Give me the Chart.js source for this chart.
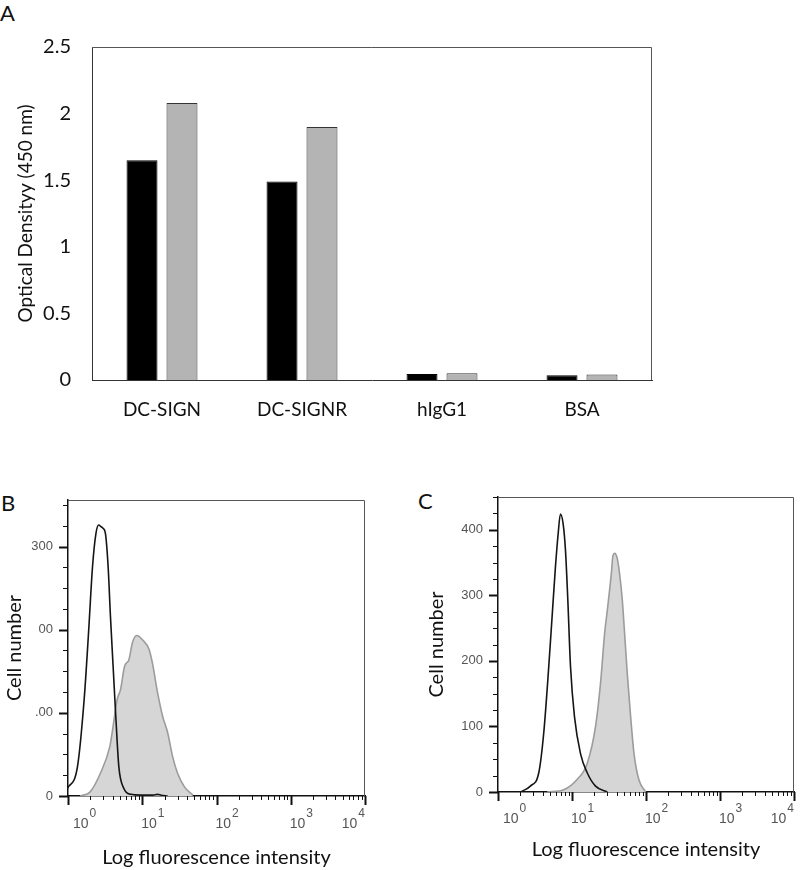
<!DOCTYPE html>
<html>
<head>
<meta charset="utf-8">
<script src="https://cdn.jsdelivr.net/npm/chart.js@4.4.1/dist/chart.umd.min.js"></script>
<style>
  body { margin: 0; background: #fff; width: 800px; height: 870px; position: relative; overflow: hidden; font-family: Lato, sans-serif; }
  canvas { position: absolute; }
  .panel { position: absolute; font-size: 22px; line-height: 1; color: #111; }
</style>
</head>
<body>
<div class="panel" style="left:0px;top:2px">A</div>
<div class="panel" style="left:1px;top:492px">B</div>
<div class="panel" style="left:418px;top:490px">C</div>
<canvas id="chartA" width="800" height="440" style="left:0;top:0"></canvas>
<canvas id="chartB" width="400" height="430" style="left:0;top:440px"></canvas>
<canvas id="chartC" width="400" height="430" style="left:400px;top:440px"></canvas>
<script>
// Panel A - ELISA
const categories = ['DC-SIGN', 'DC-SIGNR', 'hIgG1', 'BSA'];
const odBlack = [1.65, 1.49, 0.045, 0.035];
const odGray = [2.08, 1.90, 0.05, 0.042];

// Panel B / C - flow histograms (log x)
const decades = [1, 10, 100, 1000, 10000];
const decadeExp = ['0', '1', '2', '3', '4'];

const bYTicks = [0, 100, 200, 300];
const bYText = ['0', '.00', '00', '300'];
const cYTicks = [0, 100, 200, 300, 400];
const cYText = ['0', '100', '200', '300', '400'];

const bOpenX = [0.98, 1.34, 1.65, 1.89, 2.14, 2.38, 2.59, 2.78, 2.96, 3.19, 3.47, 3.73, 4.05, 4.40, 4.84, 5.66, 6.98, 9.5, 14, 16, 18, 22];
const bOpenY = [9, 35, 116, 196, 276, 316, 326, 324, 322, 316, 276, 216, 156, 96, 35, 9, 2, 1, 1, 2, 1, 0];
const bFillX = [1.46, 1.99, 2.72, 3.65, 3.93, 4.59, 5.1, 5.78, 6.62, 7.35, 8.42, 10.05, 12.4, 13.7, 16.1, 18.8, 22, 25.7, 30, 37, 48];
const bFillY = [0, 5, 27, 59, 76, 116, 128, 156, 164, 184, 193, 188, 176, 160, 124, 96, 76, 47, 27, 11, 1];

const cOpenX = [2.0, 2.74, 3.55, 4.15, 4.85, 5.38, 5.97, 6.5, 6.98, 7.59, 8.16, 8.78, 9.55, 10.8, 13.0, 16.1, 20.8, 30];
const cOpenY = [0, 9, 29, 90, 191, 267, 343, 394, 424, 409, 369, 293, 191, 115, 59, 29, 9, 0];
const cFillX = [4.61, 7.75, 11.7, 16.1, 20.8, 24.3, 27.6, 30, 34, 35.8, 37.7, 40.9, 44.5, 47.8, 51.4, 55.8, 62, 68.8, 80, 99];
const cFillY = [0, 3.5, 19, 44, 100, 166, 242, 277, 333, 361, 364, 356, 328, 293, 242, 181, 115, 59, 19, 0];

function pts(xs, ys) {
    return xs.map((x, i) => ({ x: x, y: ys[i] }));
}

// tick positions for the log axis: decades plus 2..9
const logTicks = [];
decades.forEach((d, i) => {
    logTicks.push(d);
    if (i < decades.length - 1) {
        for (let m = 2; m <= 9; m++) logTicks.push(d * m);
    }
});

// top/right frame lines
const frameBox = {
    id: 'frameBox',
    afterDraw(chart) {
        const { ctx, chartArea: a } = chart;
        ctx.save();
        ctx.strokeStyle = '#555';
        ctx.lineWidth = 1;
        ctx.beginPath();
        ctx.moveTo(a.left, a.top + 0.5);
        ctx.lineTo(a.right - 0.5, a.top + 0.5);
        ctx.lineTo(a.right - 0.5, a.bottom);
        ctx.stroke();
        ctx.restore();
    }
};

const tickFont = '"Liberation Sans", Arial, sans-serif';

// tick marks and 10^n labels for the histograms
function flowAxes(yMajor, labelDrop) {
    return {
        id: 'flowAxes',
        afterDraw(chart) {
            const { ctx, chartArea: a, scales } = chart;
            ctx.save();
            ctx.strokeStyle = '#111';
            scales.y.ticks.forEach(t => {
                const py = Math.round(scales.y.getPixelForValue(t.value)) + 0.5;
                const major = t.value % yMajor === 0;
                ctx.lineWidth = major ? 2 : 1;
                ctx.beginPath();
                ctx.moveTo(a.left - (major ? 9 : 5), py);
                ctx.lineTo(a.left, py);
                ctx.stroke();
            });
            scales.x.ticks.forEach(t => {
                const px = Math.round(scales.x.getPixelForValue(t.value)) + 0.5;
                const major = decades.includes(t.value);
                ctx.lineWidth = major ? 2 : 1;
                ctx.beginPath();
                ctx.moveTo(px, a.bottom);
                ctx.lineTo(px, a.bottom + (major ? 9 : 4));
                ctx.stroke();
            });
            ctx.fillStyle = '#555';
            ctx.textAlign = 'left';
            ctx.textBaseline = 'alphabetic';
            const by = a.bottom + labelDrop;
            decades.forEach((d, i) => {
                const px = scales.x.getPixelForValue(d);
                ctx.font = '14px ' + tickFont;
                const wBase = ctx.measureText('10').width;
                ctx.font = '12px ' + tickFont;
                const wSup = ctx.measureText(decadeExp[i]).width;
                let sx = i === 0 ? px + 5 : px - 1;
                if (i === decades.length - 1) sx = px - wBase - wSup - 1;
                ctx.font = '14px ' + tickFont;
                ctx.fillText('10', sx, by);
                ctx.font = '12px ' + tickFont;
                ctx.fillText(decadeExp[i], sx + wBase + 1, by - 11);
            });
            ctx.restore();
        }
    };
}

Chart.defaults.font.family = 'Lato, sans-serif';
Chart.defaults.color = '#111';

// ---- Panel A ----
new Chart(document.getElementById('chartA').getContext('2d'), {
    type: 'bar',
    data: {
        labels: categories,
        datasets: [{
            data: odBlack,
            backgroundColor: '#000',
            borderColor: '#000',
            borderWidth: 1
        }, {
            data: odGray,
            backgroundColor: '#b4b4b4',
            borderColor: '#333',
            borderWidth: 1
        }]
    },
    options: {
        responsive: false,
        animation: false,
        categoryPercentage: 0.571,
        barPercentage: 0.775,
        layout: { padding: { top: 47, right: 148, bottom: 0, left: 0 } },
        plugins: { legend: { display: false }, tooltip: { enabled: false } },
        scales: {
            x: {
                grid: { display: false, drawTicks: false },
                border: { display: true, color: '#333', width: 1 },
                ticks: { font: { size: 19 }, color: '#111', padding: 18 },
                afterFit: s => { s.height = 60; s.paddingLeft = 0; s.paddingRight = 0; }
            },
            y: {
                min: 0,
                max: 2.5,
                grid: { display: false, drawTicks: false },
                border: { display: true, color: '#333', width: 1 },
                ticks: {
                    stepSize: 0.5,
                    font: { size: 20 },
                    color: '#111',
                    padding: 21,
                    callback: v => String(v)
                },
                title: {
                    display: true,
                    text: 'Optical Densityy (450 nm)',
                    font: { size: 19 },
                    color: '#111',
                    padding: { top: 14, bottom: 0 }
                },
                afterFit: s => { s.width = 92; s.paddingTop = 0; s.paddingBottom = 0; }
            }
        }
    },
    plugins: [frameBox]
});

// ---- Panels B and C ----
function histogram(id, openPts, fillPts, yMax, yTicks, yText, opt) {
    return new Chart(document.getElementById(id).getContext('2d'), {
        type: 'line',
        data: {
            datasets: [{
                data: openPts,
                borderColor: '#151515',
                borderWidth: 1.6,
                fill: false,
                pointRadius: 0,
                cubicInterpolationMode: 'monotone'
            }, {
                data: fillPts,
                borderColor: '#9c9c9c',
                backgroundColor: '#d6d6d6',
                borderWidth: 1.6,
                fill: 'origin',
                pointRadius: 0,
                cubicInterpolationMode: 'monotone'
            }]
        },
        options: {
            responsive: false,
            animation: false,
            layout: { padding: { top: opt.top, right: opt.right, bottom: 0, left: 0 } },
            plugins: { legend: { display: false }, tooltip: { enabled: false } },
            scales: {
                x: {
                    type: 'logarithmic',
                    min: 1,
                    max: 10000,
                    afterBuildTicks: s => { s.ticks = logTicks.map(v => ({ value: v })); },
                    grid: { display: false, drawTicks: false },
                    border: { display: true, color: '#111', width: 1.5 },
                    ticks: { display: false },
                    title: {
                        display: true,
                        text: 'Log fluorescence intensity',
                        font: { size: 20 },
                        color: '#111',
                        padding: { top: 0, bottom: opt.titleBottom }
                    },
                    afterFit: s => { s.height = opt.xHeight; s.paddingLeft = 0; s.paddingRight = 0; }
                },
                y: {
                    min: 0,
                    max: yMax,
                    grid: { display: false, drawTicks: false },
                    border: { display: true, color: '#111', width: 1.5 },
                    ticks: {
                        stepSize: 25,
                        includeBounds: false,
                        autoSkip: false,
                        padding: 15,
                        color: '#555',
                        font: { family: tickFont, size: 13 },
                        callback: v => {
                            const k = yTicks.indexOf(v);
                            return k >= 0 ? yText[k] : '';
                        }
                    },
                    title: {
                        display: true,
                        text: 'Cell number',
                        font: { size: 20 },
                        color: '#111',
                        padding: { top: opt.titleLeft, bottom: 0 }
                    },
                    afterFit: s => { s.width = opt.yWidth; s.paddingTop = 0; s.paddingBottom = 0; }
                }
            }
        },
        plugins: [frameBox, flowAxes(100, opt.labelDrop)]
    });
}

histogram('chartB', pts(bOpenX, bOpenY), pts(bFillX, bFillY), 356, bYTicks, bYText,
    { top: 60, right: 35, xHeight: 74, yWidth: 68, titleBottom: 0, titleLeft: 3, labelDrop: 32 });
histogram('chartC', pts(cOpenX, cOpenY), pts(cFillX, cFillY), 450, cYTicks, cYText,
    { top: 57, right: 6, xHeight: 78, yWidth: 98, titleBottom: 8, titleLeft: 25, labelDrop: 31 });
</script>
</body>
</html>
